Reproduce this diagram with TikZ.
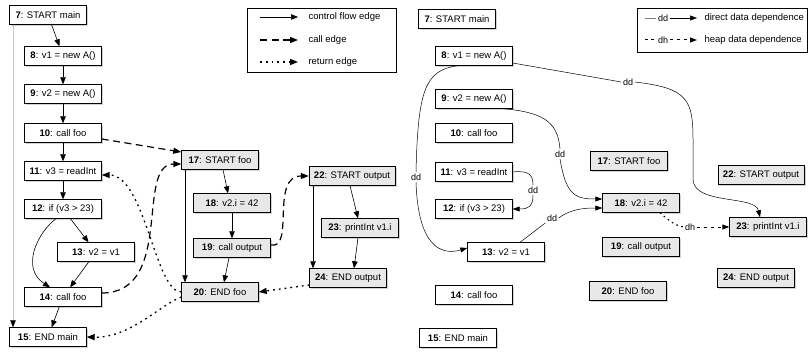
\documentclass[tikz,border=0pt]{standalone}
\usepackage{fontspec}
\setmainfont{Liberation Sans}
\usetikzlibrary{arrows.meta,shadows}

\begin{document}
\begin{tikzpicture}[x=1pt,y=-1pt,font=\fontsize{9.5}{11}\selectfont,
    instr/.style={draw,fill=white,minimum width=77pt,minimum height=19pt,inner xsep=5pt,
      drop shadow={shadow xshift=1.5pt,shadow yshift=-1.8pt,opacity=0.35}},
    callee/.style={instr,fill=gray!18},
    ctrl/.style={-{Triangle[length=7pt,width=5.5pt]},line width=0.6pt},
    callarr/.style={-{Triangle[length=8pt,width=6pt]},line width=1.2pt,dash pattern=on 7pt off 4.5pt},
    retarr/.style={-{Triangle[length=8pt,width=6pt]},line width=1.3pt,dash pattern=on 1.8pt off 4pt},
    dep/.style={-{Triangle[length=7pt,width=5pt]},line width=0.5pt},
    heap/.style={line width=1.2pt,dash pattern=on 1.6pt off 3.5pt},
    lbl/.style={fill=white,inner sep=1.5pt,font=\fontsize{9}{10}\selectfont}]
    \useasboundingbox (0,0) rectangle (808,353);

    % control flow graph
    \node[instr] (L7) at (48,15) {\textbf{7}: START main};
    \node[instr] (L8) at (63,56) {\textbf{8}: v1 = new A()};
    \node[instr] (L9) at (63,94) {\textbf{9}: v2 = new A()};
    \node[instr] (L10) at (63,133) {\textbf{10}: call foo};
    \node[instr] (L11) at (63,171) {\textbf{11}: v3 = readInt};
    \node[instr] (L12) at (63,209) {\textbf{12}: if (v3 > 23)};
    \node[instr] (L13) at (96,252) {\textbf{13}: v2 = v1};
    \node[instr] (L14) at (63,297) {\textbf{14}: call foo};
    \node[instr] (L15) at (48,337) {\textbf{15}: END main};

    \node[callee] (F17) at (220,160) {\textbf{17}: START foo};
    \node[callee] (F18) at (232,203) {\textbf{18}: v2.i = 42};
    \node[callee] (F19) at (232,248) {\textbf{19}: call output};
    \node[callee] (F20) at (220,292) {\textbf{20}: END foo};

    \node[callee,minimum width=86pt] (O22) at (352,176) {\textbf{22}: START output};
    \node[callee] (O23) at (360,228) {\textbf{23}: printInt v1.i};
    \node[callee] (O24) at (348,278) {\textbf{24}: END output};

    \draw[ctrl] (L7) -- (L8);
    \draw[ctrl] (L8) -- (L9);
    \draw[ctrl] (L9) -- (L10);
    \draw[ctrl] (L10) -- (L11);
    \draw[ctrl] (L11) -- (L12);
    \draw[ctrl] (L12) -- (L13);
    \draw[ctrl] ([xshift=-7pt]L12.south) .. controls (38,232) and (20,268) .. ([xshift=-13pt]L14.north);
    \draw[ctrl] (L13) -- (L14);
    \draw[ctrl] (L14) -- (L15);
    \draw[ctrl,draw=gray!45,-{Triangle[length=7pt,width=5.5pt,black]}] ([xshift=-35pt]L7.south) -- ([xshift=-35pt]L15.north);

    \draw[ctrl] ([xshift=3pt]F17.south) -- ([xshift=-4pt]F18.north);
    \draw[ctrl] (F18) -- (F19);
    \draw[ctrl] ([xshift=-3pt]F19.south) -- ([xshift=4pt]F20.north);
    \draw[ctrl] ([xshift=-35pt]F17.south) -- ([xshift=-35pt]F20.north);

    \draw[ctrl] ([xshift=-2pt]O22.south) -- ([xshift=-2pt]O23.north);
    \draw[ctrl] ([xshift=-2pt]O23.south) -- ([xshift=6pt]O24.north);
    \draw[ctrl] ([xshift=-39pt]O22.south) -- ([xshift=-35pt]O24.north);

    % calls
    \draw[callarr] ([yshift=-6pt]L10.east) -- ([yshift=8pt]F17.west);
    \draw[callarr] ([yshift=4pt]L14.east) .. controls (175,293) and (135,164) .. ([yshift=-4pt]F17.west);
    \draw[callarr] ([yshift=3pt]F19.east) .. controls (295,250) and (270,176) .. (O22.west);

    % returns
    \draw[retarr] (F20.west) .. controls (155,292) and (145,175) .. ([yshift=-4pt]L11.east);
    \draw[retarr] ([yshift=-5pt]F20.west) .. controls (160,305) and (130,338) .. (L15.east);
    \draw[retarr] ([yshift=-7pt]O24.west) -- (F20.east);

    % legend
    \draw (247,8) rectangle (396,72);
    \node[anchor=west] (lgcf) at (305,17) {control flow edge};
    \node[anchor=west] (lgcall) at (305,40) {call edge};
    \node[anchor=west] (lgret) at (305,62) {return edge};
    \draw[ctrl] (260,17) -- ([xshift=-7pt]lgcf.west);
    \draw[callarr] (260,40) -- ([xshift=-7pt]lgcall.west);
    \draw[retarr] (260,62) -- ([xshift=-7pt]lgret.west);

    % dependence graph
    \node[instr] (R7) at (457,19) {\textbf{7}: START main};
    \node[instr] (R8) at (474,56) {\textbf{8}: v1 = new A()};
    \node[instr] (R9) at (474,99) {\textbf{9}: v2 = new A()};
    \node[instr] (R10) at (474,133) {\textbf{10}: call foo};
    \node[instr] (R11) at (474,172) {\textbf{11}: v3 = readInt};
    \node[instr] (R12) at (474,209) {\textbf{12}: if (v3 > 23)};
    \node[instr] (R13) at (506,252) {\textbf{13}: v2 = v1};
    \node[instr] (R14) at (474,295) {\textbf{14}: call foo};
    \node[instr] (R15) at (458,338) {\textbf{15}: END main};

    \node[callee] (R17) at (629,161) {\textbf{17}: START foo};
    \node[callee] (R18) at (641,203) {\textbf{18}: v2.i = 42};
    \node[callee] (R19) at (641,247) {\textbf{19}: call output};
    \node[callee] (R20) at (628,291) {\textbf{20}: END foo};
    \node[callee,minimum width=86pt] (R22) at (761,175) {\textbf{22}: START output};
    \node[callee] (R23) at (768,227) {\textbf{23}: printInt v1.i};
    \node[callee] (R24) at (756,278) {\textbf{24}: END output};

    \node[lbl] (dd1) at (416,177) {dd};
    \node[lbl] (dd2) at (628,82) {dd};
    \node[lbl] (dd3) at (560,154) {dd};
    \node[lbl] (dd4) at (533,190) {dd};
    \node[lbl] (dd5) at (552,218) {dd};
    \node[lbl] (dh1) at (690,227) {dh};

    \draw[line width=0.5pt] ([xshift=-16pt]R8.south) .. controls (425,70) and (418,90) .. (dd1.north);
    \draw[dep] (dd1.south) .. controls (418,245) and (440,256) .. ([yshift=4pt]R13.west);
    \draw[line width=0.5pt] ([yshift=-7pt]R8.east) -- (dd2.west);
    \draw[dep] (dd2.east) .. controls (688,88) and (693,100) .. (693,140) -- (693,180)
        .. controls (695,205) and (755,195) .. ([xshift=-8pt]R23.north);
    \draw[line width=0.5pt] ([xshift=29pt]R9.south) .. controls (540,112) and (558,120) .. (dd3.north);
    \draw[dep] (dd3.south) .. controls (566,195) and (575,199) .. ([yshift=4pt]R18.west);
    \draw[line width=0.5pt] (R11.east) .. controls (530,170) and (533,176) .. (dd4.north);
    \draw[dep] (dd4.south) .. controls (533,207) and (528,209) .. (R12.east);
    \draw[line width=0.5pt] ([xshift=14pt]R13.north) -- (dd5.south west);
    \draw[dep] (dd5.east) .. controls (572,208) and (588,208) .. ([yshift=-5pt]R18.west);
    \draw[heap] ([xshift=19pt]R18.south) .. controls (670,222) and (677,226) .. (dh1.west);
    \draw[dep,line width=1pt,dash pattern=on 3pt off 4pt] (dh1.east) -- (R23.west);

    % legend
    \draw (637,8) rectangle (807,52);
    \node[lbl] (lgdd) at (663,18) {dd};
    \node[lbl] (lgdh) at (663,40) {dh};
    \node[anchor=west] (lgdir) at (701,18) {direct data dependence};
    \node[anchor=west] (lgheap) at (701,40) {heap data dependence};
    \draw[gray,line width=0.5pt] (645,18) -- (lgdd.west);
    \draw[dep] (lgdd.east) -- ([xshift=-4pt]lgdir.west);
    \draw[line width=1pt,dash pattern=on 2.5pt off 3.5pt] (645,40) -- (lgdh.west);
    \draw[dep,line width=1pt,dash pattern=on 3pt off 4pt] (lgdh.east) -- ([xshift=-4pt]lgheap.west);
\end{tikzpicture}
\end{document}
